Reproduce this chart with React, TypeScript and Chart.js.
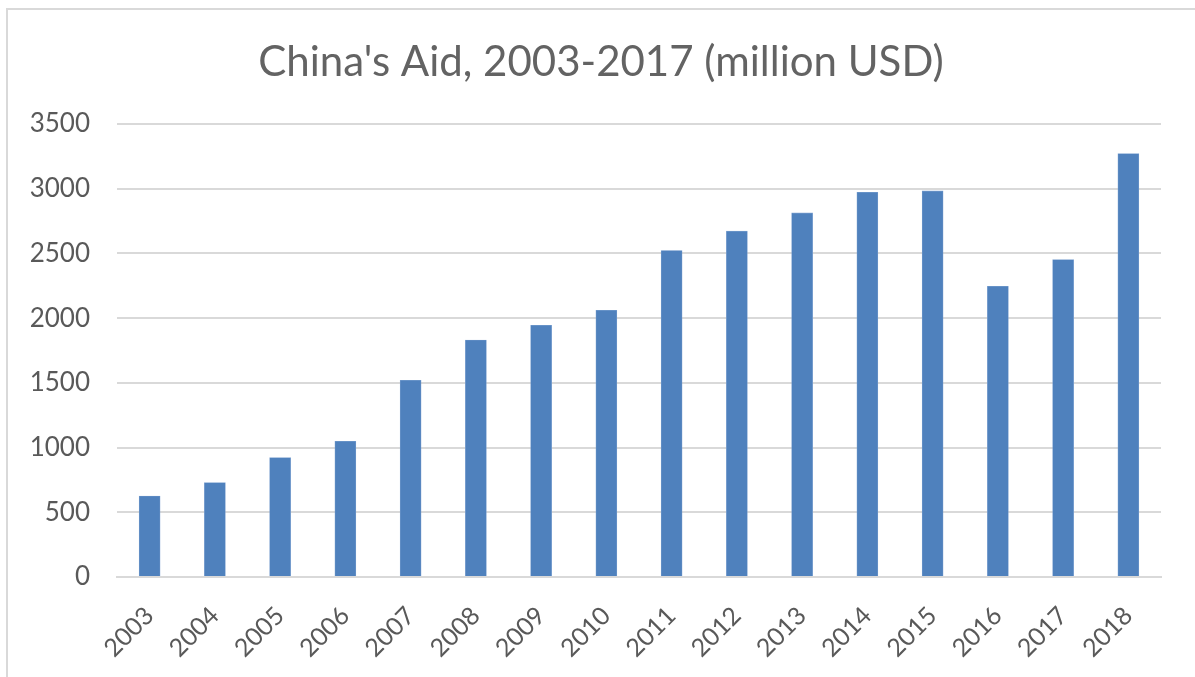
import React, { useEffect, useRef } from "react";
import { Chart, registerables } from "chart.js";

Chart.register(...registerables);

const TITLE = "China's Aid, 2003-2017 (million USD)";
const years = ["2003","2004","2005","2006","2007","2008","2009","2010","2011","2012","2013","2014","2015","2016","2017","2018"];
const aid = [626, 729, 922, 1049, 1520, 1831, 1945, 2061, 2522, 2672, 2813, 2973, 2983, 2246, 2452, 3271];
const yTicks = [0, 500, 1000, 1500, 2000, 2500, 3000, 3500];

const FONT = "Lato";
const TEXT = "#595959";
const GRID = "#d9d9d9";
const BAR = "#4f81bd";

const titlePlugin = {
  id: "centeredTitle",
  afterDraw(chart: any) {
    const ctx = chart.ctx;
    ctx.save();
    ctx.font = `normal 42px ${FONT}`;
    ctx.fillStyle = "#636363";
    ctx.textAlign = "center";
    ctx.textBaseline = "middle";
    ctx.fillText(TITLE, 601, 62);
    ctx.restore();
  },
};

export default function App() {
  const ref = useRef<HTMLCanvasElement | null>(null);
  useEffect(() => {
    if (!ref.current) return;
    const chart = new Chart(ref.current, {
      type: "bar",
      data: {
        labels: years,
        datasets: [
          {
            data: aid,
            backgroundColor: BAR,
            borderColor: "#7fa3d1",
            borderWidth: 0.6,
            barThickness: 21,
          },
        ],
      },
      plugins: [titlePlugin],
      options: {
        animation: false,
        responsive: false,
        maintainAspectRatio: false,
        layout: { padding: { left: 0, right: 34, top: 124, bottom: 0 } },
        plugins: {
          legend: { display: false },
          tooltip: { enabled: false },
          title: { display: false },
        },
        scales: {
          x: {
            grid: { display: false, drawTicks: false },
            border: { display: true, color: GRID, width: 2 },
            ticks: {
              color: TEXT,
              font: { family: FONT, size: 25 },
              minRotation: 45,
              maxRotation: 45,
              padding: 24,
              autoSkip: false,
            },
            afterFit: (s: any) => {
              s.height = 100;
            },
          },
          y: {
            min: 0,
            max: 3500,
            afterBuildTicks: (s: any) => {
              s.ticks = yTicks.map((v) => ({ value: v }));
            },
            grid: { color: GRID, lineWidth: 2, drawTicks: false },
            border: { display: false },
            ticks: {
              color: TEXT,
              font: { family: FONT, size: 26 },
              padding: 27,
              callback: (v: any) => String(v),
            },
            afterFit: (s: any) => {
              s.width = 117;
            },
          },
        },
      },
    });
    return () => chart.destroy();
  }, []);
  return (
    <div style={{ position: "fixed", left: 0, top: 0, width: 1195, height: 677, background: "#fff" }}>
      <canvas ref={ref} width={1195} height={677} style={{ position: "absolute", left: 0, top: 0, width: 1195, height: 677 }} />
      <div
        style={{
          position: "absolute",
          left: 6,
          top: 8,
          width: 1200,
          height: 700,
          border: `2px solid ${GRID}`,
          boxSizing: "border-box",
          pointerEvents: "none",
        }}
      />
    </div>
  );
}
